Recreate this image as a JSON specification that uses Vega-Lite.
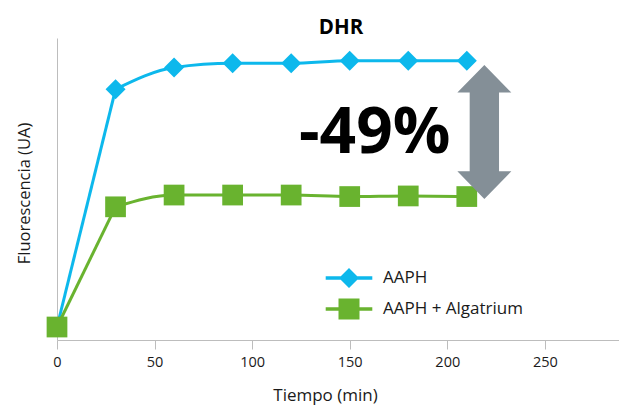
{
  "$schema": "https://vega.github.io/schema/vega-lite/v6.json",
  "width": 562,
  "height": 302,
  "autosize": {"type": "none"},
  "padding": {"left": 57, "top": 38, "right": 0, "bottom": 65},
  "background": "white",
  "config": {
    "view": {"stroke": null},
    "font": "Open Sans",
    "axis": {"grid": false, "domainColor": "#bdbdbd", "tickColor": "#bdbdbd", "labelFont": "Open Sans", "titleFont": "Open Sans", "labelColor": "#1a1a1a", "titleColor": "#1a1a1a", "titleFontWeight": "normal"}
  },
  "title": {"text": "DHR", "fontSize": 20.5, "fontWeight": "bold", "font": "Open Sans", "color": "#000", "anchor": "middle", "offset": 0, "dx": 3},
  "datasets": {
    "main": [
      {"series": "AAPH", "t": 0, "v": 4.3},
      {"series": "AAPH", "t": 30, "v": 83.0},
      {"series": "AAPH", "t": 60, "v": 90.2},
      {"series": "AAPH", "t": 90, "v": 91.6},
      {"series": "AAPH", "t": 120, "v": 91.6},
      {"series": "AAPH", "t": 150, "v": 92.5},
      {"series": "AAPH", "t": 180, "v": 92.5},
      {"series": "AAPH", "t": 210, "v": 92.5},
      {"series": "AAPH + Algatrium", "t": 0, "v": 4.3},
      {"series": "AAPH + Algatrium", "t": 30, "v": 44.1},
      {"series": "AAPH + Algatrium", "t": 60, "v": 48.0},
      {"series": "AAPH + Algatrium", "t": 90, "v": 48.0},
      {"series": "AAPH + Algatrium", "t": 120, "v": 48.0},
      {"series": "AAPH + Algatrium", "t": 150, "v": 47.5},
      {"series": "AAPH + Algatrium", "t": 180, "v": 47.7},
      {"series": "AAPH + Algatrium", "t": 210, "v": 47.5}
    ],
    "note": [{"label": "-49%"}]
  },
  "layer": [
    {
      "data": {"name": "main"},
      "mark": {"type": "point", "filled": true, "opacity": 0, "size": 400},
      "encoding": {
        "x": {"field": "t", "type": "quantitative", "scale": {"domain": [0, 288], "nice": false},
          "axis": {"values": [0, 50, 100, 150, 200, 250], "title": "Tiempo (min)", "titleFontSize": 17, "labelFontSize": 14.5, "tickSize": 9, "labelPadding": 6, "labelFlush": false,
            "titleX": 268, "titleY": 60, "titleAlign": "center", "titleBaseline": "alphabetic"}},
        "y": {"field": "v", "type": "quantitative", "scale": {"domain": [0, 100], "nice": false},
          "axis": {"labels": false, "ticks": false, "title": "Fluorescencia (UA)", "titleFontSize": 16.5,
            "titleX": -33, "titleY": 155, "titleAlign": "center", "titleBaseline": "middle", "titleAngle": -90}},
        "color": {"field": "series", "type": "nominal", "scale": {"domain": ["AAPH", "AAPH + Algatrium"], "range": ["#0db8ec", "#69b32f"]},
          "legend": {"title": null, "orient": "none", "legendX": 282, "legendY": 230, "padding": 0,
            "symbolSize": 400, "symbolStrokeWidth": 0, "symbolOpacity": 1,
            "labelFont": "Open Sans", "labelFontSize": 17, "labelColor": "#1a1a1a", "labelOffset": 24, "rowPadding": 10}},
        "shape": {"field": "series", "type": "nominal",
          "scale": {"domain": ["AAPH", "AAPH + Algatrium"], "range": [
            "M-2.33,-0.18 L2.33,-0.18 L2.33,0.18 L-2.33,0.18 Z M0,-1 L1,0 L0,1 L-1,0 Z",
            "M-2.33,-0.18 L2.33,-0.18 L2.33,0.18 L-2.33,0.18 Z M-1.05,-1.05 L1.05,-1.05 L1.05,1.05 L-1.05,1.05 Z"]},
          "legend": {"title": null, "orient": "none", "legendX": 282, "legendY": 230, "padding": 0,
            "symbolSize": 400, "symbolStrokeWidth": 0, "symbolOpacity": 1,
            "labelFont": "Open Sans", "labelFontSize": 17, "labelColor": "#1a1a1a", "labelOffset": 24, "rowPadding": 10}}
      }
    },
    {
      "data": {"name": "main"},
      "transform": [{"filter": "datum.t <= 30"}],
      "mark": {"type": "line", "interpolate": "linear", "strokeWidth": 3},
      "encoding": {
        "x": {"field": "t", "type": "quantitative"},
        "y": {"field": "v", "type": "quantitative"},
        "color": {"field": "series", "type": "nominal"}
      }
    },
    {
      "data": {"name": "main"},
      "transform": [{"filter": "datum.t >= 30"}],
      "mark": {"type": "line", "interpolate": "monotone", "strokeWidth": 3},
      "encoding": {
        "x": {"field": "t", "type": "quantitative"},
        "y": {"field": "v", "type": "quantitative"},
        "color": {"field": "series", "type": "nominal"}
      }
    },
    {
      "data": {"name": "main"},
      "transform": [{"filter": "datum.series === 'AAPH'"}],
      "mark": {"type": "point", "filled": true, "opacity": 1, "shape": "diamond", "size": 400, "color": "#0db8ec"},
      "encoding": {
        "x": {"field": "t", "type": "quantitative"},
        "y": {"field": "v", "type": "quantitative"}
      }
    },
    {
      "data": {"name": "main"},
      "transform": [{"filter": "datum.series === 'AAPH + Algatrium'"}],
      "mark": {"type": "point", "filled": true, "opacity": 1, "shape": "square", "size": 430, "color": "#69b32f"},
      "encoding": {
        "x": {"field": "t", "type": "quantitative"},
        "y": {"field": "v", "type": "quantitative"}
      }
    },
    {
      "data": {"name": "note"},
      "mark": {"type": "point", "filled": true, "opacity": 1, "color": "#848f97", "size": 17956,
        "shape": "M0,-1 L0.403,-0.587 L0.219,-0.587 L0.219,0.587 L0.403,0.587 L0,1 L-0.403,0.587 L-0.219,0.587 L-0.219,-0.587 L-0.403,-0.587 Z"},
      "encoding": {
        "x": {"datum": 219, "type": "quantitative"},
        "y": {"datum": 68.9, "type": "quantitative"}
      }
    },
    {
      "data": {"name": "note"},
      "mark": {"type": "text", "font": "Open Sans", "fontWeight": "bold", "fontSize": 64, "align": "center", "baseline": "alphabetic", "color": "#000"},
      "encoding": {
        "text": {"field": "label"},
        "x": {"datum": 162.8, "type": "quantitative"},
        "y": {"datum": 61.9, "type": "quantitative"}
      }
    }
  ]
}
